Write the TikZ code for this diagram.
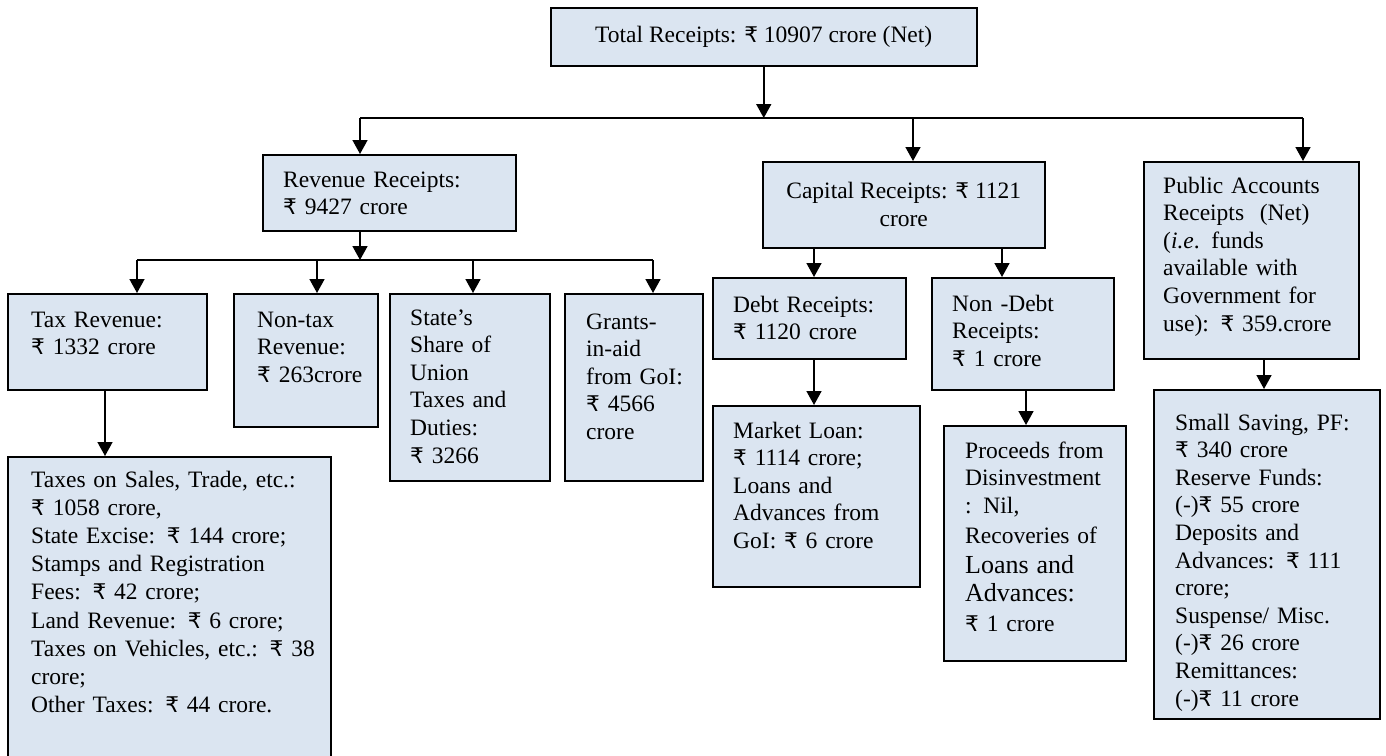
\documentclass[tikz,border=0pt]{standalone}
\usepackage{fontspec}
\setmainfont{Liberation Serif}
\newfontfamily\rupfont{DejaVu Sans}[Scale=0.92]
\usetikzlibrary{arrows.meta}
\definecolor{boxfill}{RGB}{219,229,241}
\newcommand{\rup}{{\rupfont ₹}}
\begin{document}
\begin{tikzpicture}[x=1pt,y=-1pt,
  font=\fontsize{23.5}{27.6}\selectfont,
  box/.style={draw=black, line width=1.5pt, fill=boxfill, rectangle, inner sep=0pt, anchor=north west},
  txt/.style={anchor=base west, align=left, text width=320pt, inner sep=0pt},
  txtc/.style={anchor=center, align=center, inner sep=0pt},
  conn/.style={line width=1.6pt},
  arr/.style={line width=1.6pt, -{Triangle[width=15pt,length=14pt]}}]
\useasboundingbox (0,0) rectangle (1386,755);

% boxes
\node[box, minimum width=426pt, minimum height=58pt] (total) at (550,7) {};
\node[box, minimum width=253pt, minimum height=76pt] (rev) at (262,154) {};
\node[box, minimum width=282pt, minimum height=86pt] (cap) at (762,161) {};
\node[box, minimum width=215pt, minimum height=197pt] (pub) at (1143,161) {};
\node[box, minimum width=199pt, minimum height=96pt] (tax) at (7,293) {};
\node[box, minimum width=144pt, minimum height=133pt] (ntax) at (233,293) {};
\node[box, minimum width=160pt, minimum height=187pt] (share) at (389,293) {};
\node[box, minimum width=138pt, minimum height=187pt] (grant) at (564,293) {};
\node[box, minimum width=193pt, minimum height=81pt] (debt) at (712,277) {};
\node[box, minimum width=182pt, minimum height=112pt] (ndebt) at (931,277) {};
\node[box, minimum width=323pt, minimum height=330pt] (taxb) at (7,456) {};
\node[box, minimum width=207pt, minimum height=181pt] (loan) at (712,405) {};
\node[box, minimum width=182pt, minimum height=235pt] (proc) at (943,425) {};
\node[box, minimum width=226pt, minimum height=329pt] (save) at (1153,389) {};

% texts
\node[txtc] (t-total) at (total.center) {Total Receipts: \rup\ 10907 crore (Net)};
\node[txt] (t-rev) at (283,187) {Revenue Receipts:\\\rup\ 9427 crore};
\node[txtc] (t-cap) at (cap.center) {Capital Receipts: \rup\ 1121\\crore};
\node[txt] (t-pub) at (1163,193) {Public Accounts\\Receipts\ \ (Net)\\(\textit{i.e}. funds\\available with\\Government for\\use): \rup\ 359.crore};
\node[txt] (t-tax) at (31,327) {Tax Revenue:\\\rup\ 1332 crore};
\node[txt] (t-ntax) at (257,327) {Non-tax\\Revenue:\\\rup\ 263crore};
\node[txt] (t-share) at (410,325) {State’s\\Share of\\Union\\Taxes and\\Duties:\\\rup\ 3266};
\node[txt] (t-grant) at (586,329) {Grants-\\in-aid\\from GoI:\\\rup\ 4566\\crore};
\node[txt] (t-debt) at (733,312) {Debt Receipts:\\\rup\ 1120 crore};
\node[txt] (t-ndebt) at (952,311) {Non -Debt\\Receipts:\\\rup\ 1 crore};
\node[txt] (t-taxb) at (31,487) {Taxes on Sales, Trade, etc.:\\[0.6pt]\rup\ 1058 crore,\\[0.6pt]State Excise: \rup\ 144 crore;\\[0.6pt]Stamps and Registration\\[0.6pt]Fees: \rup\ 42 crore;\\[0.6pt]Land Revenue: \rup\ 6 crore;\\[0.6pt]Taxes on Vehicles, etc.: \rup\ 38\\[0.6pt]crore;\\[0.6pt]Other Taxes: \rup\ 44 crore.};
\node[txt] (t-loan) at (733,438) {Market Loan:\\\rup\ 1114 crore;\\Loans and\\Advances from\\GoI: \rup\ 6 crore};
\node[txt] (t-proc) at (965,458) {Proceeds from\\Disinvestment\\: Nil,\\[2.5pt]Recoveries of\\[2.5pt]{\fontsize{26}{27.6}\selectfont Loans and}\\[0.5pt]{\fontsize{26}{27.6}\selectfont Advances:}\\[2.5pt]\rup\ 1 crore};
\node[txt] (t-save) at (1175,430) {Small Saving, PF:\\\rup\ 340 crore\\Reserve Funds:\\(-)\rup\ 55 crore\\Deposits and\\Advances: \rup\ 111\\crore;\\Suspense/ Misc.\\(-)\rup\ 26 crore\\Remittances:\\(-)\rup\ 11 crore};

% connector guide coordinates
\coordinate (bus1) at (0,118);
\coordinate (bus2) at (0,260);
\coordinate (x-rev) at (360,0);
\coordinate (x-cap) at (913,0);
\coordinate (x-pub) at (1303,0);
\coordinate (x-tax) at (137,0);
\coordinate (x-ntax) at (317,0);
\coordinate (x-share) at (473,0);
\coordinate (x-grant) at (653,0);
\coordinate (x-taxd) at (105,0);
\coordinate (x-debt) at (814,0);
\coordinate (x-ndebt) at (1002,0);
\coordinate (x-ndd) at (1026,0);
\coordinate (x-pubd) at (1264,0);

% connectors
\draw[arr] (total.south) -- (total.south |- bus1);
\draw[conn] (x-rev |- bus1) -- (x-pub |- bus1);
\draw[arr] (x-rev |- bus1) -- (x-rev |- rev.north);
\draw[arr] (x-cap |- bus1) -- (x-cap |- cap.north);
\draw[arr] (x-pub |- bus1) -- (x-pub |- pub.north);
\draw[arr] (x-rev |- rev.south) -- (x-rev |- bus2);
\draw[conn] (x-tax |- bus2) -- (x-grant |- bus2);
\draw[arr] (x-tax |- bus2) -- (x-tax |- tax.north);
\draw[arr] (x-ntax |- bus2) -- (x-ntax |- ntax.north);
\draw[arr] (x-share |- bus2) -- (x-share |- share.north);
\draw[arr] (x-grant |- bus2) -- (x-grant |- grant.north);
\draw[arr] (x-taxd |- tax.south) -- (x-taxd |- taxb.north);
\draw[arr] (x-debt |- cap.south) -- (x-debt |- debt.north);
\draw[arr] (x-ndebt |- cap.south) -- (x-ndebt |- ndebt.north);
\draw[arr] (x-debt |- debt.south) -- (x-debt |- loan.north);
\draw[arr] (x-ndd |- ndebt.south) -- (x-ndd |- proc.north);
\draw[arr] (x-pubd |- pub.south) -- (x-pubd |- save.north);
\end{tikzpicture}
\end{document}
